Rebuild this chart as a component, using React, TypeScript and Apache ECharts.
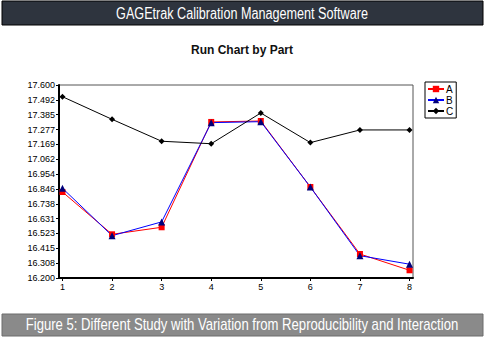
import React, { useEffect, useRef } from "react";
import * as echarts from "echarts";

const parts = [1, 2, 3, 4, 5, 6, 7, 8];
const seriesA = [16.824, 16.517, 16.568, 17.332, 17.339, 16.86, 16.374, 16.256];
const seriesB = [16.851, 16.507, 16.607, 17.327, 17.334, 16.86, 16.362, 16.3];
const seriesC = [17.515, 17.351, 17.192, 17.174, 17.397, 17.182, 17.274, 17.274];
const yTickLabels = [
  "16.200", "16.308", "16.415", "16.523", "16.631", "16.738", "16.846",
  "16.954", "17.062", "17.169", "17.277", "17.385", "17.492", "17.600",
];
const headerText = "GAGEtrak Calibration Management Software";
const chartTitle = "Run Chart by Part";
const footerText = "Figure 5: Different Study with Variation from Reproducibility and Interaction";

const bannerFont = '"Liberation Sans", Arial, sans-serif';

function measure(text: string, font: string): number {
  const c = document.createElement("canvas").getContext("2d");
  if (!c) return text.length * 8;
  c.font = font;
  return c.measureText(text).width;
}

export default function App() {
  const ref = useRef<HTMLDivElement>(null);
  useEffect(() => {
    const chart = echarts.init(ref.current!, null, { renderer: "svg" });
    const yVals = yTickLabels.map((s) => parseFloat(s));
    const headerFont = `16px ${bannerFont}`;
    const footerFont = `16px ${bannerFont}`;
    const headerScale = 252 / measure(headerText, headerFont);
    const footerScale = 433 / measure(footerText, footerFont);
    const mk = (name: string, data: number[], color: string, symbol: string, markerColor: string, size: number) => ({
      name,
      type: "line",
      data: data.map((v, i) => [parts[i], v]),
      symbol,
      symbolSize: size,
      lineStyle: { color, width: 1 },
      itemStyle: { color: markerColor },
      z: 3,
    });
    chart.setOption({
      animation: false,
      backgroundColor: "#ffffff",
      textStyle: { fontFamily: "Arial, Liberation Sans, sans-serif" },
      title: {
        text: chartTitle,
        left: 237,
        top: 39,
        textAlign: "center",
        textStyle: { fontSize: 12, fontWeight: "bold", color: "#111", fontFamily: "Arial, Liberation Sans, sans-serif" },
      },
      legend: {
        orient: "vertical",
        left: 425,
        top: 82,
        padding: [2, 3, 2, 2],
        itemGap: 1,
        itemWidth: 16,
        itemHeight: 8,
        borderColor: "#000",
        borderWidth: 1,
        backgroundColor: "#fff",
        textStyle: { fontSize: 10, color: "#000", padding: [0, 0, 0, -3] },
        data: ["A", "B", "C"],
      },
      grid: {
        left: 59,
        top: 85,
        right: 72,
        bottom: 59,
        show: true,
        borderColor: "#555",
        borderWidth: 1,
        containLabel: false,
      },
      xAxis: {
        type: "value",
        min: 0.93,
        max: 8.07,
        splitLine: { show: false },
        axisLine: { show: true, onZero: false, lineStyle: { color: "#000", width: 2 } },
        axisTick: { show: true, length: 3, customValues: parts, lineStyle: { color: "#000" } },
        axisLabel: { customValues: parts, fontSize: 9, color: "#000", margin: 4 },
      },
      yAxis: {
        type: "value",
        min: 16.2,
        max: 17.6,
        splitLine: { show: false },
        axisLine: { show: true, lineStyle: { color: "#000", width: 2 } },
        axisTick: { show: true, length: 3, customValues: yVals, lineStyle: { color: "#000" } },
        axisLabel: {
          customValues: yVals,
          fontSize: 9,
          color: "#000",
          margin: 4,
          formatter: (v: number) => v.toFixed(3),
        },
      },
      series: [
        mk("A", seriesA, "#ff0000", "rect", "#ff0000", 6),
        mk("B", seriesB, "#0000ff", "triangle", "#00007a", 7),
        mk("C", seriesC, "#000000", "diamond", "#000000", 6),
      ],
      graphic: [
        {
          type: "rect",
          shape: { x: 2, y: 1, width: 481, height: 24 },
          style: { fill: "#2e343e", stroke: "#000", lineWidth: 1 },
        },
        {
          type: "text",
          x: 242,
          y: 13,
          scaleX: headerScale,
          style: {
            text: headerText,
            fill: "#ffffff",
            font: headerFont,
            textAlign: "center",
            textVerticalAlign: "middle",
          },
        },
        {
          type: "rect",
          shape: { x: 2, y: 314, width: 481, height: 22 },
          style: { fill: "#8a8a8a", stroke: "#6d6d6d", lineWidth: 1 },
        },
        {
          type: "text",
          x: 242,
          y: 325,
          scaleX: footerScale,
          style: {
            text: footerText,
            fill: "#ffffff",
            font: footerFont,
            textAlign: "center",
            textVerticalAlign: "middle",
          },
        },
      ],
    });
    return () => chart.dispose();
  }, []);
  return (
    <div
      ref={ref}
      style={{ position: "fixed", left: 0, top: 0, width: 485, height: 337, background: "#fff" }}
    />
  );
}
